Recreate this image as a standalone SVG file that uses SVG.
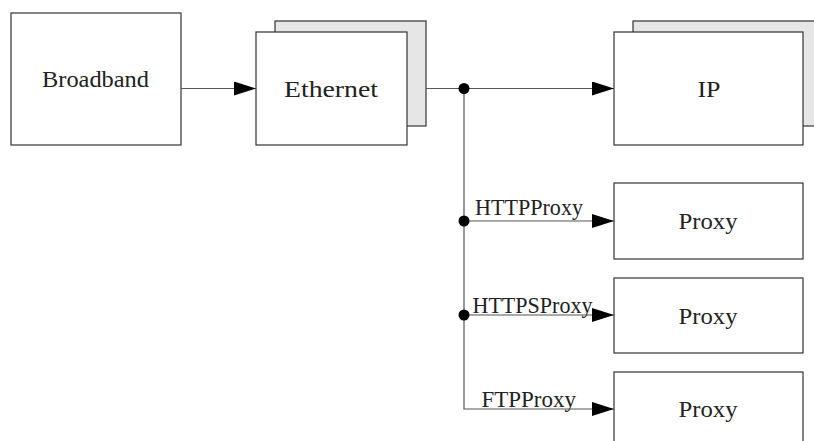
<svg xmlns="http://www.w3.org/2000/svg" width="814" height="441" viewBox="0 0 814 441">
  <style>
    .box { fill: #ffffff; stroke: #333333; stroke-width: 1.2; }
    .back { fill: #e6e6e6; stroke: #333333; stroke-width: 1.2; }
    .label { font-family: "Liberation Serif", "DejaVu Serif", serif; font-size: 23px; fill: #222222; }
    .edge-label { font-family: "Liberation Serif", "DejaVu Serif", serif; font-size: 23px; fill: #222222; }
    .wire { fill: none; stroke: #555555; stroke-width: 1.2; }
    .dot { fill: #000000; }
  </style>
  <defs>
    <marker id="arrow" markerUnits="userSpaceOnUse" markerWidth="22" markerHeight="16" refX="22" refY="7" orient="auto">
      <path d="M0,0 L22,7 L0,14 Z" fill="#000000"/>
    </marker>
  </defs>
  <rect width="814" height="441" fill="#ffffff"/>

  <g id="broadband">
    <rect class="box" x="11" y="13" width="170" height="132"/>
    <text class="label" x="95.5" y="87" text-anchor="middle" textLength="107" lengthAdjust="spacingAndGlyphs">Broadband</text>
  </g>

  <g id="ethernet">
    <rect class="back" x="275" y="21" width="151" height="105"/>
    <rect class="box" x="256" y="32" width="151" height="113"/>
    <text class="label" x="331" y="96.5" text-anchor="middle" textLength="94" lengthAdjust="spacingAndGlyphs">Ethernet</text>
  </g>

  <g id="ip">
    <rect class="back" x="633" y="21" width="190" height="105"/>
    <rect class="box" x="614" y="32" width="189" height="113"/>
    <text class="label" x="709" y="96.5" text-anchor="middle" textLength="23" lengthAdjust="spacingAndGlyphs">IP</text>
  </g>

  <g id="proxy-http">
    <rect class="box" x="614" y="183" width="189" height="76"/>
    <text class="label" x="708" y="228.5" text-anchor="middle" textLength="59" lengthAdjust="spacingAndGlyphs">Proxy</text>
  </g>

  <g id="proxy-https">
    <rect class="box" x="614" y="278" width="189" height="75"/>
    <text class="label" x="708" y="323.5" text-anchor="middle" textLength="59" lengthAdjust="spacingAndGlyphs">Proxy</text>
  </g>

  <g id="proxy-ftp">
    <rect class="box" x="614" y="372" width="189" height="80"/>
    <text class="label" x="708" y="416.5" text-anchor="middle" textLength="59" lengthAdjust="spacingAndGlyphs">Proxy</text>
  </g>

  <g id="connectors">
    <line class="wire" x1="181" y1="88.5" x2="256" y2="88.5" marker-end="url(#arrow)"/>
    <line class="wire" x1="426" y1="88.5" x2="614" y2="88.5" marker-end="url(#arrow)"/>
    <polyline class="wire" points="464,88.5 464,409 614,409" marker-end="url(#arrow)"/>
    <line class="wire" x1="464" y1="221" x2="614" y2="221" marker-end="url(#arrow)"/>
    <line class="wire" x1="464" y1="315" x2="614" y2="315" marker-end="url(#arrow)"/>
    <circle class="dot" cx="464" cy="88.5" r="5.5"/>
    <circle class="dot" cx="464" cy="221" r="5.5"/>
    <circle class="dot" cx="464" cy="315" r="5.5"/>
    <text class="edge-label" x="475" y="215" textLength="108" lengthAdjust="spacingAndGlyphs">HTTPProxy</text>
    <text class="edge-label" x="472.5" y="312.5" textLength="120" lengthAdjust="spacingAndGlyphs">HTTPSProxy</text>
    <text class="edge-label" x="481.5" y="406.5" textLength="94.5" lengthAdjust="spacingAndGlyphs">FTPProxy</text>
  </g>
</svg>
